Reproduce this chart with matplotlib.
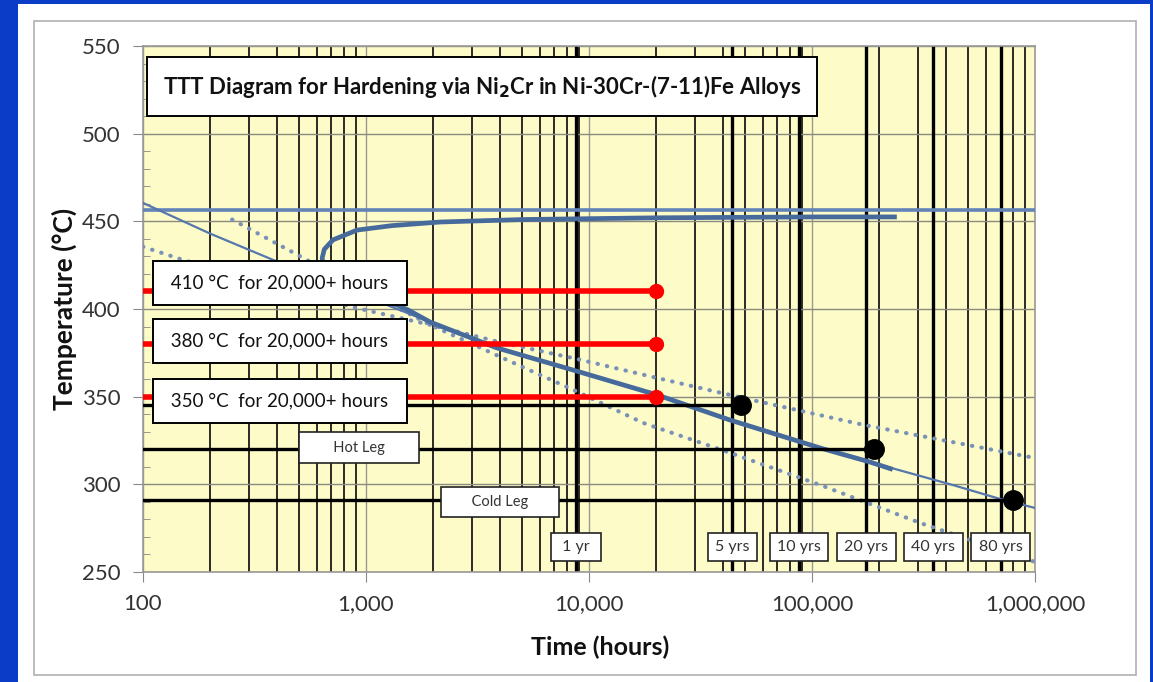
import matplotlib
matplotlib.use("Agg")
import matplotlib.pyplot as plt
from matplotlib.patches import Rectangle
from matplotlib.ticker import FixedLocator, FuncFormatter, MultipleLocator, NullFormatter

plt.rcParams['font.family'] = ['Lato', 'DejaVu Sans']

# C-curve for Ni2Cr ordering (thick), upper branch -> nose -> lower branch
c_time = [240000, 100000, 20000, 5000, 2150, 1300, 912, 711, 650, 636, 645, 700, 850,
          1100, 1540, 1936, 3860, 8470, 20200, 42800, 109000, 182000, 230000]
c_temp = [452.5, 452.5, 452.0, 451.0, 449.6, 447.5, 445.0, 439.4, 434.0, 429.0, 424.0, 419.0, 413.5,
          408.0, 399.5, 392.6, 377.8, 365.2, 351.0, 336.7, 320.7, 312.7, 308.5]

# thin fit line
fit_time = [100, 200, 383, 1000, 1936, 3860, 8470, 20200, 42800, 109000, 182000, 428000, 682000, 1000000]
fit_temp = [460.5, 443.0, 428.0, 407.0, 392.6, 377.8, 365.2, 351.0, 336.7, 320.7, 312.7, 299.6, 292.0, 286.5]

# dotted bounds
upper_time = [100, 151, 875, 1936, 4000, 8830, 18200, 42800, 54300, 169000, 1000000]
upper_temp = [435.5, 428.0, 401.0, 391.0, 381.0, 371.5, 362.0, 351.0, 348.0, 334.0, 315.0]
lower_time = [251, 543, 1936, 5430, 8470, 17500, 42800, 109000, 305000, 1000000]
lower_temp = [451.0, 428.0, 391.0, 365.0, 354.0, 335.0, 318.0, 299.6, 278.0, 255.7]

critical_temp = 456.5

# test exposures
test_temps = [410, 380, 350]
test_hours = 20000

# plant operating points
leg_temps = [345, 320, 291]
leg_hours = [48000, 190000, 800000]

year_hours = [8760, 43800, 87600, 175200, 350400, 700800]
year_names = ['1 yr', '5 yrs', '10 yrs', '20 yrs', '40 yrs', '80 yrs']

fig = plt.figure(figsize=(11.53, 6.82), dpi=100, facecolor='#0a3cc8')
fig.patches.append(Rectangle((0.0156, 0.0), 0.9818, 0.9941, transform=fig.transFigure,
                             fc='white', ec='none', zorder=-3))
fig.patches.append(Rectangle((0.0295, 0.0103), 0.9558, 0.959, transform=fig.transFigure,
                             fc='none', ec='#b0b0b0', lw=1.2, zorder=-2))

ax = fig.add_axes([0.124, 0.1613, 0.7737, 0.7713])
ax.set_facecolor('#fdfcc8')
ax.set_xscale('log')
ax.set_xlim(100, 1e6)
ax.set_ylim(250, 550)

# grid: black minor verticals, grey majors
ax.xaxis.set_minor_locator(FixedLocator([m * 10 ** e for e in range(2, 6) for m in range(2, 10)]))
ax.xaxis.set_minor_formatter(NullFormatter())
ax.grid(which='minor', axis='x', color='#1a1a1a', lw=1.3, zorder=1)
ax.grid(which='major', axis='x', color='#9a9a90', lw=1.0, zorder=1)
ax.grid(which='major', axis='y', color='#8a8a80', lw=1.0, zorder=1)
ax.set_axisbelow(True)
for h in year_hours:
    ax.axvline(h, color='black', lw=2.4, zorder=2)

ax.xaxis.set_major_formatter(FuncFormatter(lambda v, p: f'{int(round(v)):,}'))
ax.yaxis.set_major_locator(MultipleLocator(50))
ax.yaxis.set_minor_locator(MultipleLocator(10))
ax.tick_params(axis='both', which='major', length=7, color='#888888', labelsize=16,
               labelcolor='#333333', pad=9)
ax.tick_params(axis='x', which='minor', length=0)
ax.tick_params(axis='y', which='minor', direction='in', length=5, color='#888888')
for s in ax.spines.values():
    s.set_color('#999999')
    s.set_linewidth(1.2)

ax.set_xlabel('Time (hours)', fontsize=18, fontweight='bold', color='#111111', labelpad=8)
ax.xaxis.set_label_coords(0.512, -0.12)
ax.set_ylabel('Temperature (°C)', fontsize=19, fontweight='bold', color='#111111', labelpad=4)

# curves
ax.axhline(critical_temp, color='#6283b8', lw=2.6, zorder=3)
ax.plot(upper_time, upper_temp, color='#7a92b8', lw=3, ls=(0, (0.1, 2.2)),
        dash_capstyle='round', zorder=3)
ax.plot(lower_time, lower_temp, color='#7a92b8', lw=3, ls=(0, (0.1, 2.2)),
        dash_capstyle='round', zorder=3)
ax.plot(fit_time, fit_temp, color='#5577ad', lw=1.6, zorder=4)
ax.plot(c_time, c_temp, color='#476a9c', lw=3.4, zorder=4, solid_capstyle='butt')

# operating points
for t, h in zip(leg_temps, leg_hours):
    ax.plot([100, h], [t, t], color='black', lw=2.4, zorder=5)
    ax.plot(h, t, 'o', color='black', ms=14, zorder=6)

# test exposures
for t in test_temps:
    ax.plot([100, test_hours], [t, t], color='#ff0000', lw=4, zorder=7)
    ax.plot(test_hours, t, 'o', color='#ff0000', ms=10, zorder=7)

for t, dy in zip(test_temps, [4.8, 2.0, -2.2]):
    ax.text(411, t + dy, f' {t} °C  for 20,000+ hours ', ha='center', va='center',
            fontsize=13.5, color='#111111', bbox=dict(boxstyle='square,pad=0.72', fc='white',
                                                     ec='black', lw=1.4), zorder=8)

small_box = dict(boxstyle='square,pad=0.55', fc='white', ec='#222222', lw=1.2)
ax.text(931, 321, '       Hot Leg       ', ha='center', va='center', fontsize=10.5,
        color='#333333', bbox=small_box, zorder=8)
ax.text(3990, 289.7, '      Cold Leg      ', ha='center', va='center', fontsize=10.5,
        color='#333333', bbox=small_box, zorder=8)
for h, name in zip(year_hours, year_names):
    label = f' {name} ' if len(name) < 5 else name
    ax.text(h, 264.4, label, ha='center', va='center', fontsize=11.5, color='#333333',
            bbox=dict(boxstyle='square,pad=0.45', fc='white', ec='#222222', lw=1.2), zorder=8)

ax.text(0.0224, 0.923, 'TTT Diagram for Hardening via Ni$_\\mathbf{2}$Cr in Ni-30Cr-(7-11)Fe Alloys',
        transform=ax.transAxes, ha='left', va='center', fontsize=16, fontweight='bold',
        color='#111111', bbox=dict(boxstyle='square,pad=0.7', fc='white', ec='black', lw=1.4),
        zorder=8)

fig.savefig('out.png', dpi=100, facecolor=fig.get_facecolor())
